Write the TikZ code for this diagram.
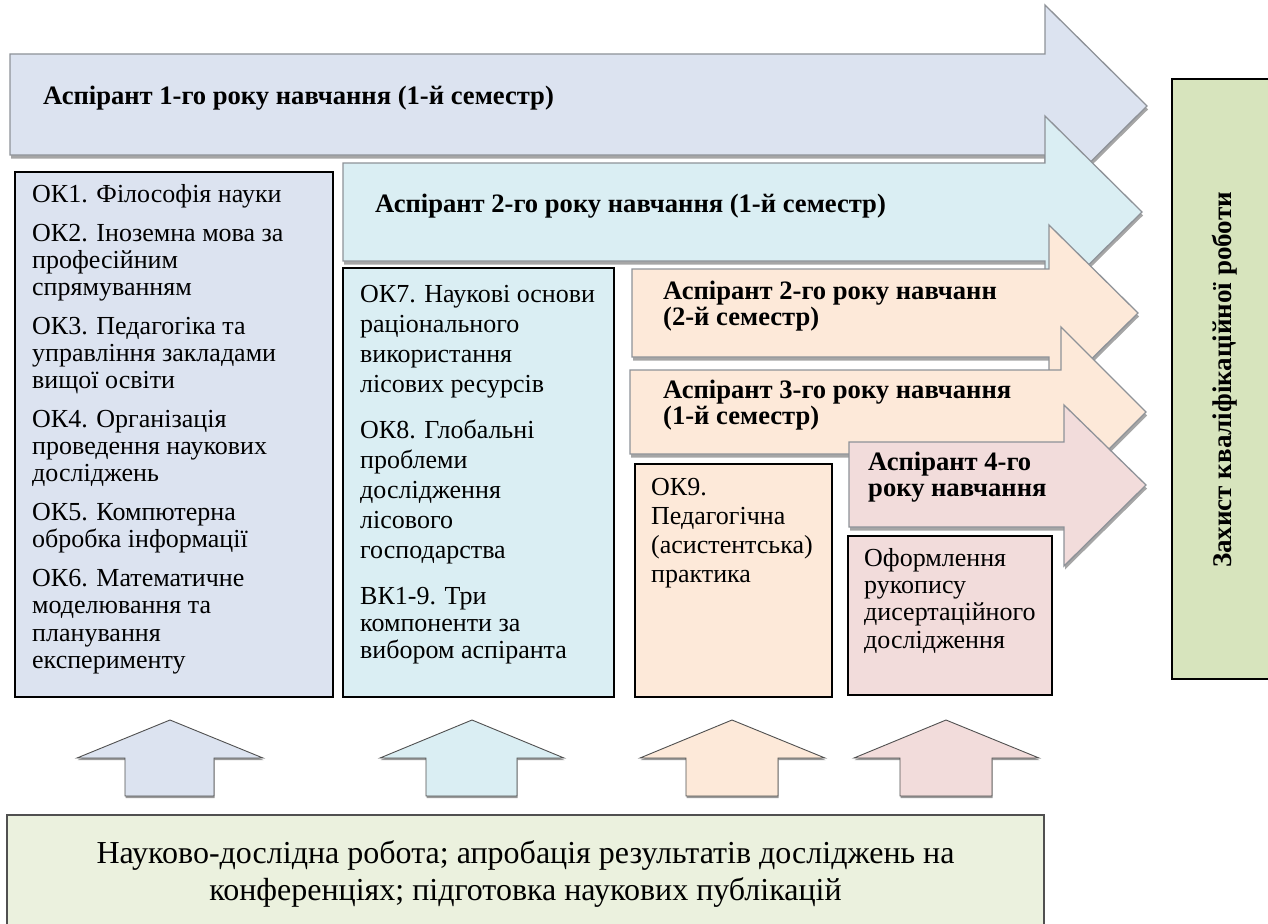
\documentclass[tikz,border=0pt]{standalone}
\usepackage{fontspec}
\setmainfont{Liberation Serif}
\usetikzlibrary{shadows}
\definecolor{cA}{HTML}{DCE3F0}
\definecolor{cB}{HTML}{DAEEF3}
\definecolor{cC}{HTML}{FDE9D9}
\definecolor{cD}{HTML}{F2DCDB}
\definecolor{cG}{HTML}{D7E4BD}
\definecolor{cF}{HTML}{EBF1DE}
\definecolor{arrgray}{HTML}{8E9298}
\definecolor{upgray}{HTML}{505050}
\newcommand\tstrut{\rule{0pt}{24pt}}
\begin{document}
\begin{tikzpicture}[x=1pt,y=-1pt,
  arr/.style={draw=arrgray, line width=1.3pt, line join=miter,
    drop shadow={shadow xshift=1pt,shadow yshift=-3.5pt,opacity=0.35,fill=black}},
  uparr/.style={draw=upgray, line width=0.9pt, line join=miter,
    drop shadow={shadow xshift=0.5pt,shadow yshift=-2pt,opacity=0.4,fill=black}},
  box/.style={draw=black, line width=1.4pt},
  lbl/.style={anchor=north west, inner sep=0pt, align=left,
    font=\fontsize{26.6}{26}\selectfont\bfseries},
  txt/.style={anchor=north west, inner sep=0pt, align=left}
]
\useasboundingbox (0,0) rectangle (1268,923);

% horizontal arrows
\path[arr,fill=cA] (10,54) -- (1045,54) -- (1045,5) -- (1147,106) -- (1045,207) -- (1045,155) -- (10,155) -- cycle;
\path[arr,fill=cB] (343,163) -- (1045,163) -- (1045,116) -- (1142,212) -- (1045,308) -- (1045,261) -- (343,261) -- cycle;
\path[arr,fill=cC] (632,269) -- (1049,269) -- (1049,225) -- (1138,313) -- (1049,401) -- (1049,357) -- (632,357) -- cycle;
\path[arr,fill=cC] (630,370) -- (1061,370) -- (1061,327) -- (1146,412) -- (1061,497) -- (1061,454) -- (630,454) -- cycle;
\path[arr,fill=cD] (849,442) -- (1064,442) -- (1064,405) -- (1146,485) -- (1064,566) -- (1064,527) -- (849,527) -- cycle;

\node[lbl] (l1) at (43,80) {\tstrut Аспірант 1-го року навчання (1-й семестр)};
\node[lbl] (l2) at (375,188) {\tstrut Аспірант 2-го року навчання (1-й семестр)};
\node[lbl] (l3) at (663,275) {\tstrut Аспірант 2-го року навчанн\\(2-й семестр)};
\node[lbl] (l4) at (663,374) {\tstrut Аспірант 3-го року навчання\\(1-й семестр)};
\node[lbl] (l5) at (868,446) {\tstrut Аспірант 4-го\\року навчання};

% boxes
\path[box,fill=cA] (15,172) rectangle (333,697);
\path[box,fill=cB] (343,268) rectangle (614,697);
\path[box,fill=cC] (635,464) rectangle (832,697);
\path[box,fill=cD] (848,536) rectangle (1052,695);

\node[txt,font=\fontsize{26}{27.2}\selectfont] (tA) at (32,178) {\tstrut ОК1. Філософія науки\\[11.6pt]
ОК2. Іноземна мова за\\професійним\\спрямуванням\\[11.6pt]
ОК3. Педагогіка та\\управління закладами\\вищої освіти\\[11.6pt]
ОК4. Організація\\проведення наукових\\досліджень\\[11.6pt]
ОК5. Компютерна\\обробка інформації\\[11.6pt]
ОК6. Математичне\\моделювання та\\планування\\експерименту};

\node[txt,font=\fontsize{26}{30}\selectfont] (tB) at (360,278) {\tstrut ОК7. Наукові основи\\раціонального\\використання\\лісових ресурсів\\[16pt]
ОК8. Глобальні\\проблеми\\дослідження\\лісового\\господарства\\[16pt]
ВК1-9. Три\\[-3pt]компоненти за\\[-3pt]вибором аспіранта};

\node[txt,font=\fontsize{26}{29}\selectfont] (tC) at (651,471) {\tstrut ОК9.\\Педагогічна\\(асистентська)\\практика};

\node[txt,font=\fontsize{26}{27.3}\selectfont] (tD) at (864,542) {\tstrut Оформлення\\рукопису\\дисертаційного\\дослідження};

% defence box
\path[draw=black,line width=1.2pt,fill=cG] (1172,79) rectangle (1272,679);
\node[rotate=90,anchor=base,inner sep=0pt,font=\bfseries\fontsize{27}{30}\selectfont] (zx) at (1231,380) {Захист кваліфікаційної роботи};

% up arrows
\path[uparr,fill=cA] (125,796) -- (125,758) -- (77,758) -- (170,720) -- (263,758) -- (214,758) -- (214,796) -- cycle;
\path[uparr,fill=cB] (426,796) -- (426,758) -- (380,758) -- (472,720) -- (564,758) -- (517,758) -- (517,796) -- cycle;
\path[uparr,fill=cC] (686,796) -- (686,758) -- (640,758) -- (732,720) -- (825,758) -- (778,758) -- (778,796) -- cycle;
\path[uparr,fill=cD] (900,796) -- (900,758) -- (854,758) -- (946,720) -- (1039,758) -- (992,758) -- (992,796) -- cycle;

% bottom box
\path[draw=upgray,line width=1.4pt,fill=cF] (7,815) rectangle (1044,935);
\node[anchor=north,inner sep=0pt,align=center,font=\fontsize{32}{37}\selectfont] (bt) at (525.5,839) {\tstrut Науково-дослідна робота; апробація результатів досліджень на\\конференціях; підготовка наукових публікацій};
\end{tikzpicture}
\end{document}
